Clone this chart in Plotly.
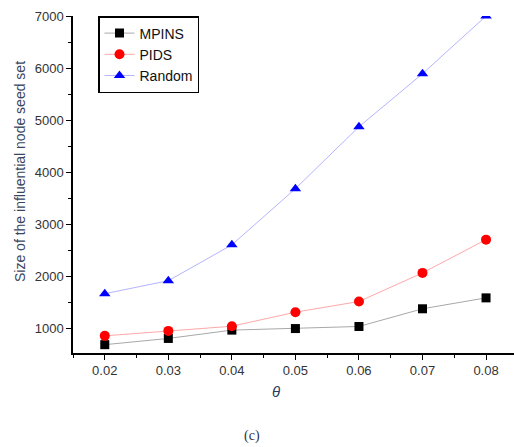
import plotly.graph_objects as go

theta = [0.02, 0.03, 0.04, 0.05, 0.06, 0.07, 0.08]
mpins = [680, 800, 960, 990, 1030, 1370, 1580]
pids = [850, 945, 1035, 1305, 1510, 2060, 2700]
random_ = [1660, 1910, 2600, 3680, 4870, 5890, 7000]

W, H = 514, 447
L, R, T, B = 73, 0, 16, 94

fig = go.Figure()
fig.add_trace(go.Scatter(x=theta, y=mpins, name="MPINS", mode="lines+markers",
                         line=dict(color="#a8a8a8", width=1),
                         marker=dict(symbol="square", size=9, color="black")))
fig.add_trace(go.Scatter(x=theta, y=pids, name="PIDS", mode="lines+markers",
                         line=dict(color="#ffa8a8", width=1),
                         marker=dict(symbol="circle", size=10, color="red")))
fig.add_trace(go.Scatter(x=theta, y=random_, name="Random", mode="lines+markers",
                         line=dict(color="#b4b4ff", width=1),
                         marker=dict(symbol="triangle-up", size=10, color="blue")))

font = "Arial, Liberation Sans, sans-serif"
fig.update_layout(
    width=W, height=H,
    margin=dict(l=L, r=R, t=T, b=B),
    paper_bgcolor="white", plot_bgcolor="white",
    font=dict(family=font, color="#333", size=13),
    showlegend=True,
    legend=dict(x=(98 - L) / (W - L - R), y=1.0, xanchor="left", yanchor="top",
                bordercolor="black", borderwidth=1.5, bgcolor="white",
                font=dict(size=14, color="#111", family=font),
                entrywidth=74, entrywidthmode="pixels",
                tracegroupgap=0),
    xaxis=dict(range=[0.015, 0.0844], tickvals=theta, ticktext=[f"{v:.2f}" for v in theta],
               showgrid=False, zeroline=False, showline=True, linecolor="black", linewidth=1.5,
               ticks="outside", ticklen=5, tickwidth=1.2, tickcolor="black",
               minor=dict(dtick=0.005, tick0=0.015, ticks="outside", ticklen=3, tickcolor="black", tickwidth=1),
               tickfont=dict(size=13, color="#333")),
    yaxis=dict(range=[520, 7000], tickvals=[1000, 2000, 3000, 4000, 5000, 6000, 7000],
               showgrid=False, zeroline=False, showline=True, linecolor="black", linewidth=1.5,
               ticks="outside", ticklen=5, tickwidth=1.2, tickcolor="black",
               minor=dict(dtick=500, tick0=500, ticks="outside", ticklen=3, tickcolor="black", tickwidth=1),
               tickfont=dict(size=13, color="#333")),
    annotations=[
        dict(text="Size of the influential node seed set", textangle=-90,
             x=20, y=H - 172, showarrow=False,
             font=dict(size=14, color="#3a4660", family=font)),
        dict(text="<i>θ</i>", x=276, y=H - 392, showarrow=False,
             font=dict(size=15, color="#2a3a60", family=font)),
        dict(text="(c)", x=252, y=H - 436, showarrow=False,
             font=dict(size=14, color="#334", family="Liberation Serif, serif")),
    ],
)
# convert pixel annotation positions to paper coordinates
pw, ph = W - L - R, H - T - B
for a in fig.layout.annotations:
    a.xref = "paper"; a.yref = "paper"
    a.x = (a.x - L) / pw
    a.y = (a.y - B) / ph
    a.xanchor = "center"; a.yanchor = "middle"

fig.write_html("out.html")
